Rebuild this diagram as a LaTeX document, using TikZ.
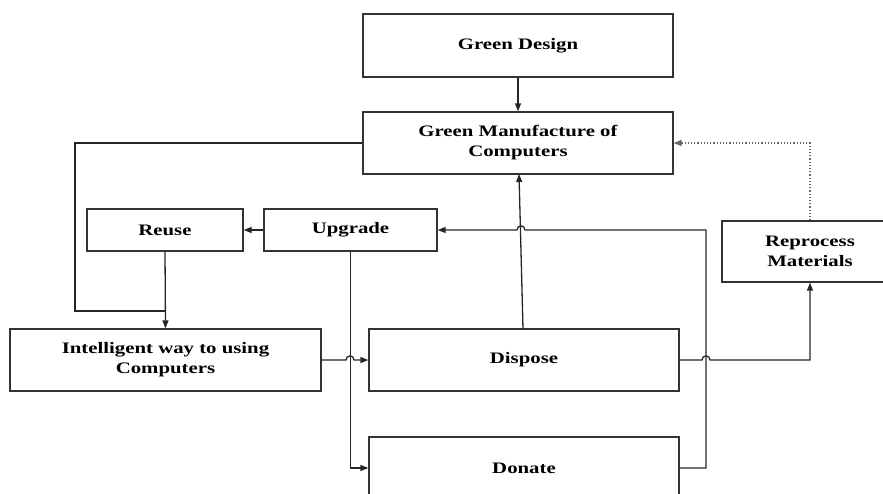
\documentclass[tikz,border=0pt]{standalone}
\usepackage{fontspec}
\setmainfont{Liberation Serif}[FakeStretch=1.3]
\usetikzlibrary{arrows.meta}
\begin{document}
\begin{tikzpicture}[x=1pt,y=-1pt,
  box/.style={draw=black!80,line width=1.3pt,fill=white,inner sep=0pt,align=center,
    font=\fontsize{16}{20}\selectfont\bfseries},
  conn/.style={draw=black!85,line width=1.3pt},
  arr/.style={conn,-{Triangle[length=8pt,width=6pt]}},
  dotarr/.style={draw=black!60,line width=1.2pt,dotted,-{Triangle[length=8pt,width=6pt]}}]
\useasboundingbox (0,0) rectangle (883,493);
\clip (0,0) rectangle (883,493);
\node[box,minimum width=310pt,minimum height=63pt] (gd) at (518,45.5) {Green Design};
\node[box,minimum width=310pt,minimum height=62pt] (gm) at (518,143) {Green Manufacture of\\Computers};
\node[box,minimum width=156pt,minimum height=42pt] (reuse) at (165,230) {Reuse};
\node[box,minimum width=173pt,minimum height=42pt] (up) at (350.5,230) {Upgrade};
\node[box,minimum width=311pt,minimum height=62pt] (intel) at (165.5,360) {Intelligent way to using\\Computers};
\node[box,minimum width=310pt,minimum height=62pt] (disp) at (524,360) {Dispose};
\node[box,minimum width=310pt,minimum height=62pt] (don) at (524,468) {Donate};
\node[box,minimum width=176pt,minimum height=61pt] (rep) at (810,251.5) {Reprocess\\Materials};
\coordinate (lc) at (75,311);
\coordinate (jc) at (165,311);
\coordinate (dtop) at (523,329);
\coordinate (gmbot) at (519,174);
\coordinate (rc) at (706,468);
\coordinate (rt) at (706,230);
% Green Design -> Green Manufacture
\draw[arr] (gd.south) -- (gm.north);
% Green Manufacture -> loop to Intelligent
\draw[conn] (gm.west) -| (lc) -- (jc);
\draw[arr] (reuse.south) -- (intel.north);
% Upgrade -> Reuse
\draw[arr] (up.west) -- (reuse.east);
% Upgrade -> Donate
\draw[arr] (up.south) |- (don.west);
% Intelligent -> Dispose with hop
\draw[arr] (intel.east) -- (346,360) .. controls (346,354.5) and (354,354.5) .. (354,360) -- (disp.west);
% Dispose -> Green Manufacture
\draw[arr] (dtop) -- (gmbot);
% Dispose -> Reprocess with hop
\draw[arr] (disp.east) -- (702,360) .. controls (702,354.5) and (710,354.5) .. (710,360) -| (rep.south);
% Donate -> Upgrade with hop
\draw[arr] (don.east) -- (rc) -- (rt) -- (525,230) .. controls (525,224.5) and (517,224.5) .. (517,230) -- (up.east);
% Reprocess -> Green Manufacture (dotted)
\draw[dotarr] (rep.north) |- (gm.east);
\end{tikzpicture}
\end{document}
